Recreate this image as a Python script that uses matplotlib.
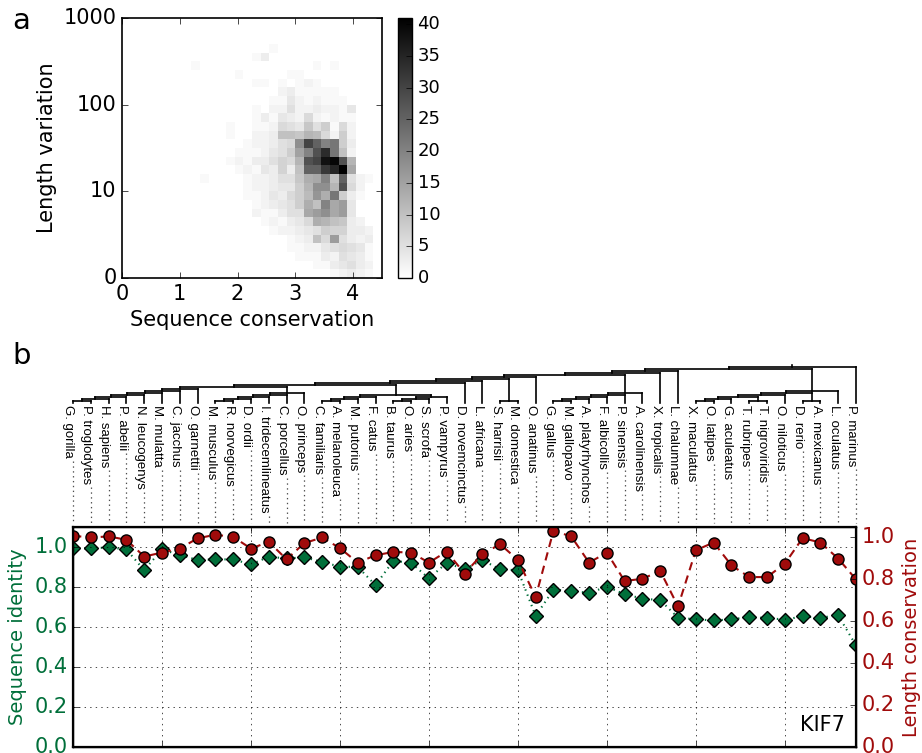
import numpy as np
import matplotlib
matplotlib.use("Agg")
import matplotlib.pyplot as plt
import matplotlib.transforms as mtransforms
from matplotlib.lines import Line2D

plt.style.use("classic")

# ---- panel a: 2D histogram (rows = length bins from bottom, {column: count})
x_edges = np.linspace(0, 4.5, 31)
y_edges = np.linspace(0, 3, 31)
length_ticks = [0, 1, 2, 3]
length_ticklabels = ["0", "10", "100", "1000"]
hist_rows = {
    26: {17: 1},
    25: {15: 1, 16: 3},
    24: {8: 1, 22: 1, 24: 1},
    23: {13: 1, 19: 1, 20: 1},
    22: {15: 1, 16: 1, 18: 1, 20: 1, 21: 2, 22: 1},
    21: {18: 2, 19: 3, 20: 1, 21: 1, 22: 1, 23: 1, 24: 1},
    20: {17: 1, 18: 1, 19: 4, 20: 2, 21: 1, 22: 2, 23: 1, 24: 1, 25: 1},
    19: {15: 1, 17: 2, 18: 2, 19: 5, 20: 2, 21: 2, 22: 3, 23: 2, 24: 2, 25: 1, 26: 4},
    18: {15: 1, 16: 3, 17: 1, 18: 4, 19: 3, 20: 2, 21: 6, 22: 2, 23: 1, 24: 2, 25: 1, 26: 1},
    17: {12: 1, 15: 1, 16: 1, 17: 2, 18: 6, 19: 5, 20: 4, 21: 9, 22: 5, 23: 8, 24: 1, 25: 6, 26: 2},
    16: {12: 1, 15: 2, 16: 2, 17: 3, 18: 10, 19: 10, 20: 9, 21: 12, 22: 11, 23: 6, 24: 2, 25: 8, 26: 2},
    15: {14: 1, 15: 2, 16: 2, 17: 3, 18: 5, 19: 6, 20: 18, 21: 30, 22: 25, 23: 20, 24: 22, 25: 8, 26: 3},
    14: {13: 1, 14: 1, 15: 1, 16: 2, 17: 4, 18: 5, 19: 8, 20: 15, 21: 20, 22: 28, 23: 34, 24: 22, 25: 10, 26: 2},
    13: {12: 1, 13: 2, 14: 1, 15: 3, 16: 3, 17: 5, 18: 7, 19: 6, 20: 12, 21: 28, 22: 30, 23: 38, 24: 40, 25: 28, 26: 12},
    12: {13: 1, 14: 2, 15: 1, 16: 4, 17: 3, 18: 7, 19: 3, 20: 10, 21: 25, 22: 25, 23: 32, 24: 35, 25: 41, 26: 14},
    11: {9: 1, 14: 1, 15: 2, 16: 2, 17: 3, 18: 5, 19: 5, 20: 9, 21: 13, 22: 14, 23: 20, 24: 10, 25: 25, 26: 5, 27: 2, 28: 1},
    10: {14: 1, 15: 2, 16: 2, 17: 3, 18: 4, 19: 4, 20: 8, 21: 12, 22: 18, 23: 18, 24: 12, 25: 28, 26: 6, 27: 2},
    9: {14: 1, 15: 1, 16: 2, 17: 4, 18: 3, 19: 6, 20: 8, 21: 11, 22: 17, 23: 13, 24: 22, 25: 8, 26: 3, 27: 1},
    8: {15: 1, 16: 2, 17: 3, 18: 4, 19: 5, 20: 8, 21: 13, 22: 10, 23: 20, 24: 14, 25: 16, 26: 4},
    7: {15: 2, 16: 1, 17: 1, 18: 3, 19: 5, 20: 5, 21: 14, 22: 16, 23: 18, 24: 14, 25: 16, 26: 4},
    6: {16: 1, 17: 2, 18: 1, 19: 3, 20: 4, 21: 6, 22: 13, 23: 12, 24: 10, 25: 9, 26: 3, 27: 2},
    5: {17: 1, 18: 2, 19: 2, 20: 3, 21: 4, 22: 5, 23: 8, 24: 7, 25: 7, 26: 3, 27: 3, 28: 2},
    4: {19: 1, 20: 2, 21: 3, 22: 10, 23: 6, 24: 16, 25: 5, 26: 3, 27: 2, 28: 3},
    3: {19: 1, 20: 1, 21: 2, 22: 2, 23: 4, 24: 5, 25: 6, 26: 5, 27: 4, 28: 1},
    2: {20: 1, 21: 1, 22: 1, 23: 3, 24: 2, 25: 5, 26: 4, 27: 3, 28: 1},
    1: {22: 1, 23: 1, 24: 3, 25: 4, 26: 5, 27: 3, 28: 2},
    0: {24: 1, 25: 2, 26: 3, 27: 2, 28: 1},
}

# ---- panel b
species = [
    "G. gorilla", "P. troglodytes", "H. sapiens", "P. abelii", "N. leucogenys",
    "M. mulatta", "C. jacchus", "O. garnettii", "M. musculus", "R. norvegicus",
    "D. ordii", "I. tridecemlineatus", "C. porcellus", "O. princeps", "C. familiaris",
    "A. melanoleuca", "M. putorius", "F. catus", "B. taurus", "O. aries",
    "S. scrofa", "P. vampyrus", "D. novemcinctus", "L. africana", "S. harrisii",
    "M. domestica", "O. anatinus", "G. gallus", "M. gallopavo", "A. platyrhynchos",
    "F. albicollis", "P. sinensis", "A. carolinensis", "X. tropicalis", "L. chalumnae",
    "X. maculatus", "O. latipes", "G. aculeatus", "T. rubripes", "T. nigroviridis",
    "O. niloticus", "D. rerio", "A. mexicanus", "L. oculatus", "P. marinus",
]
seq_identity = [
    0.993, 0.993, 0.998, 0.988, 0.884, 0.988, 0.960, 0.935, 0.938, 0.938,
    0.913, 0.951, 0.943, 0.948, 0.926, 0.901, 0.901, 0.809, 0.931, 0.921,
    0.843, 0.921, 0.888, 0.935, 0.888, 0.884, 0.655, 0.787, 0.779, 0.771,
    0.801, 0.764, 0.742, 0.734, 0.647, 0.638, 0.633, 0.638, 0.650, 0.645,
    0.637, 0.653, 0.647, 0.658, 0.508,
]
len_conservation = [
    1.008, 1.000, 1.005, 0.989, 0.909, 0.928, 0.947, 0.996, 1.013, 1.003,
    0.947, 0.979, 0.896, 0.973, 1.000, 0.949, 0.880, 0.915, 0.931, 0.928,
    0.880, 0.933, 0.828, 0.920, 0.968, 0.893, 0.716, 1.032, 1.005, 0.880,
    0.928, 0.792, 0.803, 0.840, 0.671, 0.939, 0.976, 0.867, 0.811, 0.811,
    0.875, 0.997, 0.976, 0.899, 0.800,
]
gene = "KIF7"

# species tree (leaf order matches the species list)
primates = ((((((("G. gorilla", "P. troglodytes"), "H. sapiens"), "P. abelii"),
               "N. leucogenys"), "M. mulatta"), "C. jacchus"), "O. garnettii")
glires = ((((("M. musculus", "R. norvegicus"), "D. ordii"), "I. tridecemlineatus"),
           "C. porcellus"), "O. princeps")
laurasiatheria = (((("C. familiaris", "A. melanoleuca"), "M. putorius"), "F. catus"),
                  ((("B. taurus", "O. aries"), "S. scrofa"), "P. vampyrus"))
eutheria = ((((primates, glires), laurasiatheria), "D. novemcinctus"), "L. africana")
mammals = ((eutheria, ("S. harrisii", "M. domestica")), "O. anatinus")
sauropsids = ((((("G. gallus", "M. gallopavo"), "A. platyrhynchos"), "F. albicollis"),
               "P. sinensis"), "A. carolinensis")
tetrapods = (((mammals, sauropsids), "X. tropicalis"), "L. chalumnae")
percomorphs = ((("X. maculatus", "O. latipes"), "G. aculeatus"), ("T. rubripes", "T. nigroviridis"))
fishes = (((percomorphs, "O. niloticus"), ("D. rerio", "A. mexicanus")), "L. oculatus")
tree = ((tetrapods, fishes), "P. marinus")

green = "#006f3a"
red = "#a00b0b"

W, H = 922, 753
fig = plt.figure(figsize=(W / 100, H / 100), dpi=100, facecolor="white")


def px_box(left, top, right, bottom):
    return [left / W, 1 - bottom / H, (right - left) / W, (bottom - top) / H]


# ---------------- panel a
ax1 = fig.add_axes(px_box(122, 18, 382, 278))
counts = np.zeros((len(y_edges) - 1, len(x_edges) - 1))
for j, row in hist_rows.items():
    for i, v in row.items():
        counts[j, i] = v
im = ax1.imshow(counts, origin="lower", aspect="auto", interpolation="nearest",
                extent=[x_edges[0], x_edges[-1], y_edges[0], y_edges[-1]],
                cmap="gray_r", vmin=0, vmax=counts.max())
ax1.set_xlim(0, 4.5)
ax1.set_ylim(0, 3)
ax1.set_xticks([0, 1, 2, 3, 4])
ax1.set_yticks(length_ticks)
ax1.set_yticklabels(length_ticklabels)
ax1.tick_params(labelsize=15)
ax1.set_xlabel("Sequence conservation", fontsize=15)
ax1.set_ylabel("Length variation", fontsize=15)
for s in ax1.spines.values():
    s.set_linewidth(1.2)

cax = fig.add_axes(px_box(398, 18, 412, 278))
cb = fig.colorbar(im, cax=cax, ticks=range(0, 41, 5))
cb.ax.tick_params(labelsize=13)

fig.text(12 / W, 1 - 29 / H, "a", fontsize=21)
fig.text(12 / W, 1 - 364 / H, "b", fontsize=21)

# ---------------- panel b
x = np.arange(len(species))
ax2 = fig.add_axes(px_box(73, 527, 856, 747))
ax2.plot(x, seq_identity, color=green, lw=1.5, dashes=(1, 3), marker="D", ms=7,
         mfc=green, mec="k", mew=1)
ax2.set_xlim(0, len(species) - 1)
ax2.set_ylim(0, 1.1)
ax2.set_xticks(range(0, len(species), 5))
ax2.set_xticklabels([])
ax2.set_yticks(np.arange(0, 1.01, 0.2))
ax2.grid(True)
ax2.tick_params(axis="y", labelcolor=green, labelsize=15)
ax2.set_ylabel("Sequence identity", color=green, fontsize=14)
for s in ax2.spines.values():
    s.set_linewidth(1.6)

ax3 = ax2.twinx()
ax3.plot(x, len_conservation, color=red, lw=1.5, dashes=(6, 4), marker="o", ms=8,
         mfc=red, mec="k", mew=1)
ax3.set_xlim(0, len(species) - 1)
ax3.set_ylim(0, 1.05)
ax3.set_yticks(np.arange(0, 1.01, 0.2))
ax3.tick_params(axis="y", labelcolor=red, labelsize=15)
ax3.set_ylabel("Length conservation", color=red, fontsize=14)
ax3.text(0.986, 0.055, gene, transform=ax3.transAxes, ha="right", va="bottom", fontsize=15)

# ---------------- dendrogram
axd = fig.add_axes(px_box(73, 363, 856, 403))
axd.set_xlim(0, len(species) - 1)
axd.set_ylim(0, 20)
axd.axis("off")


def draw_tree(node):
    if isinstance(node, str):
        return species.index(node), 0
    xs, hs = zip(*(draw_tree(c) for c in node))
    h = max(hs) + 1
    axd.plot([xs[0], xs[1]], [h, h], color="k", lw=1.2, clip_on=False)
    for xc, hc in zip(xs, hs):
        axd.plot([xc, xc], [hc, h], color="k", lw=1.2, clip_on=False)
    return sum(xs) / 2, h


root_x, root_h = draw_tree(tree)
axd.plot([root_x, root_x], [root_h, root_h + 1], color="k", lw=1.2, clip_on=False)

trans = mtransforms.blended_transform_factory(axd.transData, fig.transFigure)
labels = []
for i, name in enumerate(species):
    labels.append(axd.text(i + 0.08, 1 - 405 / H, name, transform=trans, rotation=270,
                           ha="right", va="top", fontsize=9.5, family="Liberation Sans",
                           clip_on=False))

# dotted leaders from each label down to the plot
fig.canvas.draw()
top_px = ax2.get_window_extent().y1
inv = fig.transFigure.inverted()
for i, t in enumerate(labels):
    bb = t.get_window_extent()
    xd = axd.transData.transform((i, 0))[0]
    (x0, y0), (x1, y1) = inv.transform([(xd, bb.y0 - 3), (xd, top_px + 4)])
    fig.add_artist(Line2D([x0, x1], [y0, y1], transform=fig.transFigure,
                          color="0.3", lw=0.9, dashes=(1, 2.5)))

fig.savefig("out.png", dpi=100, facecolor="white")
